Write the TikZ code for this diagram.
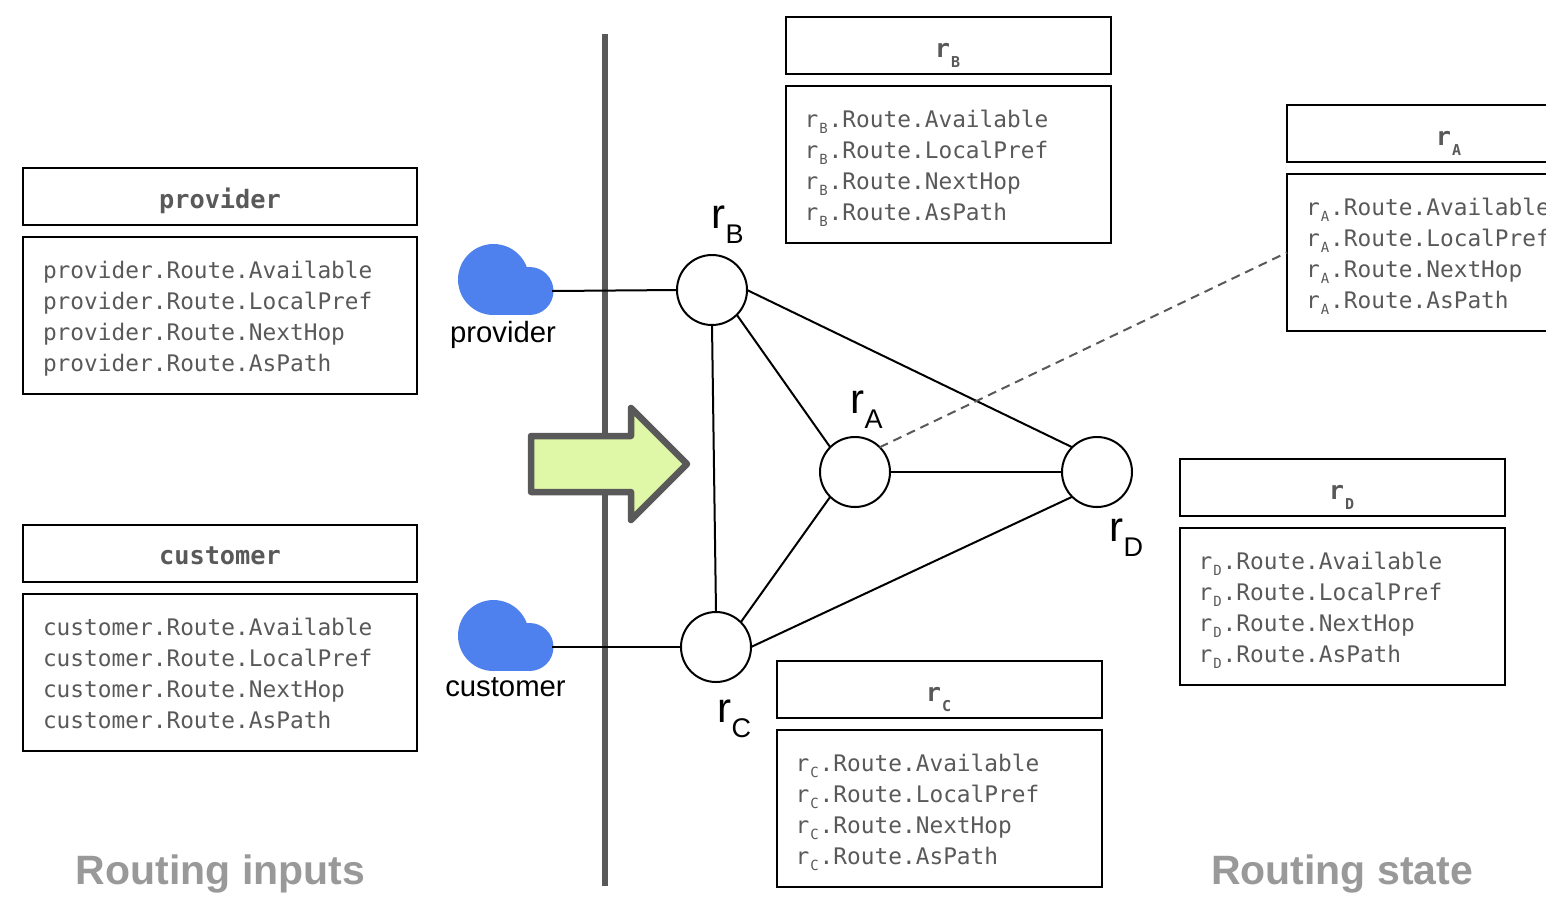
\documentclass[tikz,border=0pt]{standalone}
\usepackage{fontspec}
\setmainfont{Liberation Sans}
\setmonofont{DejaVu Sans Mono}
\definecolor{ink}{HTML}{595959}
\definecolor{cloudblue}{HTML}{4F81EE}
\definecolor{arrowgreen}{HTML}{DFF8A8}
\definecolor{caption}{HTML}{999999}
\newcommand\bsub[1]{\raisebox{-10pt}[0pt][0pt]{\makebox[11pt]{\fontsize{15}{15}\selectfont #1}}}
\newcommand\lsub[1]{\leavevmode\kern-1pt r\raisebox{-6pt}[0pt][0pt]{\makebox[10.5pt]{\fontsize{14}{14}\selectfont #1}}}
\newcommand\routelines[1]{\rule{0pt}{23.8pt}#1.Route.Available\\#1.Route.LocalPref\\#1.Route.NextHop\\#1.Route.AsPath\rule[-5.5pt]{0pt}{0pt}}
\newcommand\rlabel[1]{r\raisebox{-15pt}[0pt][0pt]{\fontsize{27}{27}\selectfont #1}}
\newcommand\cloudat[2]{\begin{scope}[shift={(#1,#2)}]
  \fill[cloudblue] (35,35.5) circle[radius=35.5];
  \fill[cloudblue] (71,47) circle[radius=24];
  \fill[cloudblue] (35,47) rectangle (71,71);
\end{scope}}
\tikzset{
  titlebox/.style={draw=black,line width=2pt,rectangle,inner sep=0pt,outer sep=0pt,anchor=center,text=ink,text height=24pt,text depth=0pt,font=\ttfamily\bfseries\fontsize{25.3}{30}\selectfont},
  bodybox/.style={draw=black,line width=2pt,rectangle,anchor=north west,inner xsep=20pt,inner ysep=0pt,outer sep=0pt,text=ink,align=left,font=\ttfamily\fontsize{22.8}{31}\selectfont},
  routernode/.style={circle,draw=black,fill=white,line width=2pt,minimum size=70pt,inner sep=0pt,outer sep=0pt},
  link/.style={draw=black,line width=2pt},
  sans/.style={text=black,inner sep=0pt,font=\fontsize{29.3}{34}\selectfont},
  rname/.style={text=black,inner sep=0pt,anchor=base west,font=\fontsize{42}{46}\selectfont},
  captiontext/.style={text=caption,inner sep=0pt,font=\bfseries\fontsize{41}{46}\selectfont},
  endpt/.style={inner sep=0pt,minimum size=0pt}
}
\begin{document}
\begin{tikzpicture}[x=1pt,y=-1pt]
\clip (0,0) rectangle (1546,914);
% divider
\draw[ink,line width=6pt] (604.5,34) -- (604.5,886);
% clouds
\cloudat{458.5}{244}
\cloudat{458.5}{600}
\node[endpt] (cloudP) at (552,291) {};
\node[endpt] (cloudC) at (552,647) {};
\node[sans] (provlabel) at (503,334.5) {provider};
\node[sans] (custlabel) at (505.5,687) {customer};
% routers
\node[routernode] (rB) at (712,290) {};
\node[routernode] (rA) at (855,472) {};
\node[routernode] (rD) at (1097,472) {};
\node[routernode] (rC) at (716,647) {};
\node[rname] (lB) at (711.5,228) {\rlabel{B}};
\node[rname] (lA) at (850.5,413) {\rlabel{A}};
\node[rname] (lD) at (1109.5,541) {\rlabel{D}};
\node[rname] (lC) at (717.5,722) {\rlabel{C}};
% input boxes
\node[titlebox,minimum width=394pt,minimum height=57pt] (tP) at (220,196.5) {provider};
\node[bodybox,text width=354pt,minimum height=157pt] (bP) at (23,237) {\routelines{provider}};
\node[titlebox,minimum width=394pt,minimum height=57pt,text height=23pt] (tC) at (220,553) {customer};
\node[bodybox,text width=354pt,minimum height=157pt] (bC) at (23,594) {\routelines{customer}};
% state boxes
\node[titlebox,minimum width=325pt,minimum height=57pt] (tB) at (948,45.5) {r\bsub{B}};
\node[bodybox,text width=285pt,minimum height=157pt] (bB) at (785.5,86) {\routelines{\lsub{B}}};
\node[titlebox,minimum width=325pt,minimum height=57pt] (tA) at (1449,133.5) {r\bsub{A}};
\node[bodybox,text width=285pt,minimum height=157pt] (bA) at (1287,174) {\routelines{\lsub{A}}};
\node[titlebox,minimum width=325pt,minimum height=57pt] (tD) at (1342,487) {r\bsub{D}};
\node[bodybox,text width=285pt,minimum height=157pt] (bD) at (1179.5,528) {\routelines{\lsub{D}}};
\node[titlebox,minimum width=325pt,minimum height=57pt] (tRC) at (939,689.5) {r\bsub{C}};
\node[bodybox,text width=285pt,minimum height=157pt] (bRC) at (776.5,730) {\routelines{\lsub{C}}};
% links
\draw[link] (cloudP) -- (rB.west);
\draw[link] (cloudC) -- (rC.west);
\draw[link] (rB.south) -- (rC.north);
\draw[link] (rB.-45) -- (rA.135);
\draw[link] (rB.east) -- (rD.135);
\draw[link] (rC.45) -- (rA.225);
\draw[link] (rC.east) -- (rD.225);
\draw[link] (rA.east) -- (rD.west);
\draw[ink,line width=2pt,dash pattern=on 9pt off 6pt] (rA.45) -- (bA.west);
% big arrow
\draw[ink,fill=arrowgreen,line width=6.5pt,line join=round]
  (531,436) -- (631,436) -- (631,408) -- (687,464) -- (631,520) -- (631,492) -- (531,492) -- cycle;
% captions
\node[captiontext] (capL) at (220.5,874) {Routing inputs};
\node[captiontext] (capR) at (1342,874) {Routing state};
\end{tikzpicture}
\end{document}
